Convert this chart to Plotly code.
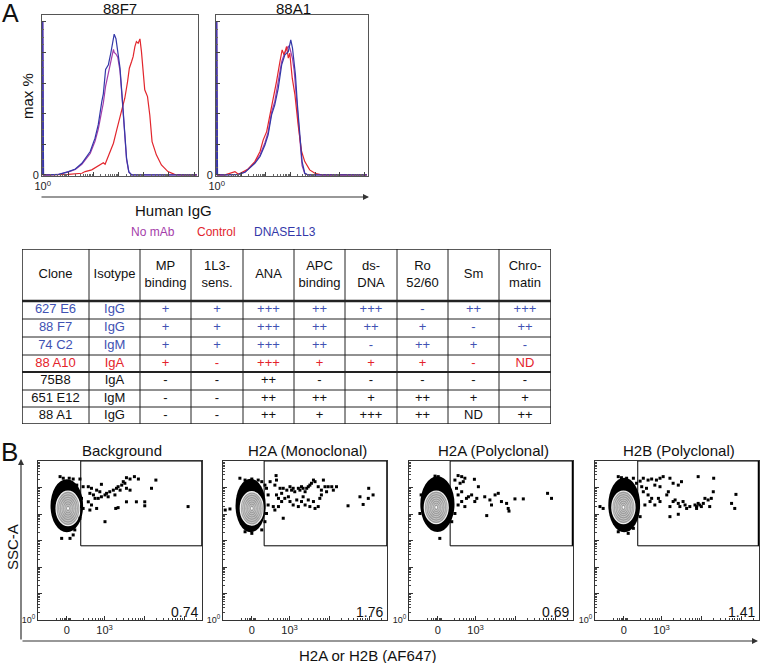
import numpy as np
import plotly.graph_objects as go

W, H = 760, 663
FONT = "Arial, Liberation Sans, sans-serif"

# =========================
# PANEL A: HISTOGRAMS (x = log10 Human IgG, y = % of max)
# =========================
F7_BLUE_X = [0.0, 0.0, 0.03, 0.24, 0.63, 1.02, 1.29, 1.55, 1.68, 1.88, 2.07, 2.20, 2.34, 2.40, 2.49,
             2.60, 2.70, 2.80, 2.83, 2.90, 2.97, 3.06, 3.15, 3.23, 3.32, 3.41, 3.52, 6.1]
F7_BLUE_Y = [0, 100, 0, 0, 0.4, 2.2, 3.9, 7.6, 10.9, 15.3, 24, 33, 48, 53, 69,
             72, 80, 88, 92, 89, 81, 70, 50, 28, 11, 2, 0, 0]
F7_PURPLE_Y = [0, 100, 0, 0, 0.3, 2.0, 3.5, 7.0, 10.0, 14.0, 22, 30, 42, 47, 58,
               66, 75, 82, 80, 79, 77, 68, 49, 27, 10, 2, 0, 0]
F7_RED_X = [0.0, 1.02, 1.55, 1.68, 1.94, 2.14, 2.27, 2.40, 2.47, 2.53, 2.66, 2.80, 2.93, 3.10, 3.19,
            3.25, 3.36, 3.43, 3.52, 3.58, 3.65, 3.71, 3.78, 3.85, 3.91, 3.98, 4.04, 4.15, 4.24, 4.33,
            4.50, 4.70, 4.96, 5.22, 5.49, 6.1]
F7_RED_Y = [0, 0.4, 1.1, 2.2, 3.3, 5.4, 6.9, 8.0, 7.0, 9.5, 15.3, 20.7, 29.4, 41.4, 46.9,
            50.1, 61.0, 69.7, 74.1, 77.3, 83.9, 87.1, 86.0, 88.9, 80.6, 67.5, 55.6, 51.2, 39.2, 21.8,
            13.1, 6.5, 2.2, 0.4, 0, 0]

A1_BLUE_X = [0.0, 0.0, 0.03, 0.34, 0.88, 1.15, 1.42, 1.55, 1.76, 1.96, 2.09, 2.23, 2.36, 2.50, 2.64,
             2.77, 2.91, 2.97, 3.01, 3.08, 3.15, 3.20, 3.28, 3.38, 3.47, 3.58, 3.72, 6.1]
A1_BLUE_Y = [0, 100, 0, 0, 0.4, 1.7, 5.4, 7.6, 12.0, 19.6, 26.1, 39.2, 45.8, 56.6, 71.9,
             78.4, 80.6, 87.1, 88.2, 82.8, 74.0, 65.4, 45.8, 24.0, 8.7, 1.1, 0, 0]
A1_PURPLE_Y = [0, 100, 0, 0, 0.4, 2.0, 5.8, 8.2, 13.0, 21.0, 28.0, 41.0, 48.0, 60.0, 74.0,
               80.0, 84.0, 83.0, 80.0, 76.0, 68.0, 58.0, 40.0, 20.0, 6.0, 0.8, 0, 0]
A1_RED_X = [0.0, 0.34, 0.74, 0.88, 1.28, 1.55, 1.76, 1.89, 2.03, 2.23, 2.43, 2.57, 2.66, 2.74, 2.84,
            2.91, 2.97, 3.07, 3.18, 3.31, 3.45, 3.58, 3.78, 3.99, 4.26, 6.1]
A1_RED_Y = [0, 0, 2.2, 0.4, 3.9, 8.7, 15.3, 22.9, 28.3, 43.6, 61.0, 74.1, 81.7, 78.4, 83.9,
            76.3, 79.5, 63.2, 52.3, 32.7, 15.3, 8.7, 3.3, 1.1, 0, 0]

HIST_TITLES = ["88F7", "88A1"]
LEGEND_LABELS = ["No mAb", "Control", "DNASE1L3"]

# =========================
# TABLE
# =========================
HEADERS = ["Clone", "Isotype", "MP<br>binding", "1L3-<br>sens.", "ANA", "APC<br>binding",
           "ds-<br>DNA", "Ro<br>52/60", "Sm", "Chro-<br>matin"]
CLONES = ["627 E6", "88 F7", "74 C2", "88 A10", "75B8", "651 E12", "88 A1"]
ISOTYPES = ["IgG", "IgG", "IgM", "IgA", "IgA", "IgM", "IgG"]
MP_BINDING = ["+", "+", "+", "+", "-", "-", "-"]
L3_SENS = ["+", "+", "+", "-", "-", "-", "-"]
ANA = ["+++", "+++", "+++", "+++", "++", "++", "++"]
APC_BINDING = ["++", "++", "++", "+", "-", "++", "+"]
DS_DNA = ["+++", "++", "-", "+", "-", "+", "+++"]
RO_52_60 = ["-", "+", "++", "+", "-", "++", "++"]
SM = ["++", "-", "+", "-", "-", "+", "ND"]
CHROMATIN = ["+++", "++", "-", "ND", "-", "+", "++"]
ROW_GROUP = ["dnase", "dnase", "dnase", "control", "other", "other", "other"]

# =========================
# PANEL B: FLOW PLOTS (x = AF647 display units, 10^3 at 3; y = log10 SSC-A)
# =========================
B_TITLES = ["Background", "H2A (Monoclonal)", "H2A (Polyclonal)", "H2B (Polyclonal)"]
GATE_PCT = [0.74, 1.76, 0.69, 1.41]
GATE_X = [2.40, 2.36, 2.36, 2.40]
GATE_Y = 2.8

BLOB_CX = [2.05, 2.02, 2.04, 2.06]
BLOB_CY = [4.31, 4.32, 4.37, 4.34]
BLOB_RX = [0.41, 0.38, 0.43, 0.40]
BLOB_RY = [1.00, 1.01, 1.05, 1.03]
CORE_CX = [2.08, 2.05, 2.01, 2.04]
CORE_CY = [4.21, 4.21, 4.25, 4.25]
CORE_RX = [0.30, 0.29, 0.30, 0.29]
CORE_RY = [0.65, 0.63, 0.61, 0.61]

BG_X = [1.88, 1.96, 2.11, 2.21, 2.38, 2.30, 2.46, 2.42, 2.42, 2.46, 2.38, 2.25, 2.21, 2.13, 1.92,
        2.59, 2.67, 2.63, 2.72, 2.80, 2.88, 2.92, 2.76, 2.84, 2.92, 3.01, 3.05, 3.09, 3.13, 3.22,
        3.26, 3.30, 3.34, 3.39, 3.43, 3.47, 3.51, 3.55, 3.64, 3.75, 3.85, 3.55, 3.64, 3.55, 3.80,
        4.01, 4.01, 4.18, 4.29, 3.28, 3.34, 3.01, 5.10, 2.67, 2.59, 2.80, 2.63]
BG_Y = [5.41, 5.35, 5.35, 5.32, 5.32, 5.09, 5.03, 4.59, 4.28, 4.21, 3.84, 3.40, 3.21, 3.08, 3.08,
        5.03, 4.97, 4.78, 4.72, 4.90, 4.84, 5.12, 4.59, 4.59, 4.65, 4.72, 4.78, 4.65, 4.84, 4.90,
        4.72, 4.97, 5.03, 4.90, 5.09, 5.22, 5.16, 5.37, 5.32, 5.41, 5.32, 4.97, 4.90, 4.46, 4.46,
        4.46, 4.31, 4.97, 5.28, 4.21, 4.24, 3.71, 4.28, 4.34, 4.46, 4.21, 4.15]

MONO_X = [1.38, 1.50, 1.75, 2.66, 2.67, 2.51, 2.63, 2.76, 2.84, 2.80, 2.93, 3.01, 3.05, 3.09, 3.13,
          3.22, 3.26, 3.30, 3.34, 3.39, 3.43, 3.47, 3.51, 3.55, 3.60, 3.64, 3.72, 3.80, 3.85, 3.89,
          3.93, 3.97, 4.06, 4.10, 4.18, 2.67, 2.72, 2.80, 2.88, 2.97, 3.01, 3.09, 3.18, 3.22, 3.30,
          3.34, 3.39, 3.47, 3.51, 3.60, 3.64, 3.72, 3.76, 3.80, 2.84, 2.63, 2.59, 2.72, 4.47, 4.77,
          4.85, 4.99, 5.10, 4.98, 1.88, 2.05, 2.21, 2.30, 2.38, 2.42, 2.46, 2.46, 2.42, 2.38, 2.30,
          2.05, 1.88]
MONO_Y = [4.15, 4.19, 5.35, 5.45, 5.28, 5.22, 5.09, 4.97, 4.97, 4.78, 4.90, 5.03, 4.90, 4.97, 4.84,
          4.97, 4.90, 5.03, 4.97, 4.84, 4.97, 5.03, 5.09, 5.16, 5.28, 5.22, 5.03, 4.90, 5.28, 5.03,
          4.84, 5.03, 5.03, 4.90, 5.03, 4.72, 4.59, 4.47, 4.59, 4.65, 4.47, 4.34, 4.53, 4.28, 4.47,
          4.65, 4.34, 4.53, 4.28, 4.47, 4.21, 4.28, 4.59, 4.72, 3.84, 4.15, 4.28, 4.28, 4.31, 4.65,
          4.36, 4.97, 4.72, 4.59, 5.28, 5.32, 5.28, 5.22, 5.09, 4.97, 4.72, 4.34, 4.02, 3.71, 3.40,
          3.27, 3.33]

POLY_A_X = [2.10, 1.98, 2.06, 2.56, 2.65, 2.73, 2.69, 2.61, 2.48, 2.52, 2.65, 2.56, 2.56, 2.65, 2.73,
            2.77, 2.48, 2.40, 1.63, 1.60, 2.97, 3.07, 2.82, 2.90, 3.03, 2.98, 3.23, 3.36, 3.40, 3.49,
            3.57, 3.65, 3.78, 3.82, 3.84, 3.99, 4.20, 3.28, 4.81, 4.91]
POLY_A_Y = [3.08, 5.43, 5.41, 5.45, 5.41, 5.35, 5.22, 5.16, 5.28, 4.97, 4.84, 4.72, 4.34, 4.47, 4.28,
            4.59, 4.02, 3.71, 4.72, 4.02, 5.31, 5.03, 4.65, 4.72, 4.59, 4.47, 4.65, 4.53, 4.34, 4.72,
            4.78, 4.47, 4.40, 4.21, 4.11, 4.57, 4.57, 3.94, 4.78, 4.59]

POLY_B_X = [1.45, 1.53, 1.91, 1.99, 2.12, 2.29, 2.46, 2.37, 2.50, 2.54, 2.62, 2.66, 2.71, 2.58, 2.46,
            2.29, 2.16, 1.91, 2.54, 2.66, 2.75, 2.87, 2.96, 3.04, 2.83, 2.96, 3.21, 3.29, 3.42, 3.50,
            3.92, 4.31, 2.75, 2.83, 2.92, 2.96, 3.13, 3.17, 3.21, 3.29, 3.34, 3.42, 3.46, 3.54, 3.59,
            3.63, 3.71, 3.84, 3.88, 3.92, 4.00, 4.05, 4.09, 4.17, 4.21, 4.25, 4.30, 3.21, 3.42, 3.88,
            3.96, 4.76, 4.84, 4.87]
POLY_B_Y = [4.28, 4.21, 5.41, 5.37, 5.35, 5.35, 5.24, 5.16, 5.03, 4.84, 4.97, 4.72, 4.47, 4.34, 3.90,
            3.46, 3.27, 3.33, 5.35, 5.28, 5.32, 5.28, 5.35, 5.41, 5.09, 5.03, 5.35, 5.16, 5.09, 5.22,
            5.41, 5.35, 4.59, 4.34, 4.59, 4.47, 4.72, 4.84, 4.28, 4.47, 4.53, 4.40, 4.28, 4.47, 4.34,
            4.21, 4.28, 4.34, 4.28, 4.40, 4.28, 4.40, 4.59, 4.53, 4.28, 4.59, 4.84, 3.90, 3.99, 4.21,
            4.34, 4.40, 4.21, 4.74]

DOTS_X = [BG_X, MONO_X, POLY_A_X, POLY_B_X]
DOTS_Y = [BG_Y, MONO_Y, POLY_A_Y, POLY_B_Y]

# =========================
# STYLE / LAYOUT HELPERS
# =========================
BLUE = "#3338a8"
PURPLE = "#a43daa"
RED = "#e2262d"
TXT_COLOR = {"dnase": "#4152b3", "control": "#e4232b", "other": "#111111"}

def px(x):
    return x / W

def py(y):
    return 1 - y / H

def xdom(a, b):
    return [a / W, b / W]

def ydom(top, bottom):
    return [1 - bottom / H, 1 - top / H]

fig = go.Figure()

# ---- histograms
hist_sets = [
    ("x", "y", F7_BLUE_X, F7_PURPLE_Y, F7_RED_X, F7_RED_Y, F7_BLUE_Y),
    ("x2", "y2", A1_BLUE_X, A1_PURPLE_Y, A1_RED_X, A1_RED_Y, A1_BLUE_Y),
]
for xa, ya, bx, pyv, rx, ry, by in hist_sets:
    fig.add_trace(go.Scatter(x=bx, y=pyv, mode="lines", line=dict(color=PURPLE, width=1.2),
                             xaxis=xa, yaxis=ya, hoverinfo="skip"))
    fig.add_trace(go.Scatter(x=rx, y=ry, mode="lines", line=dict(color=RED, width=1.2),
                             xaxis=xa, yaxis=ya, hoverinfo="skip"))
    fig.add_trace(go.Scatter(x=bx, y=by, mode="lines", line=dict(color=BLUE, width=1.2),
                             xaxis=xa, yaxis=ya, hoverinfo="skip"))

HIST_MINOR = [k + np.log10(m) for k in range(6) for m in range(2, 10)]
PCT_MINOR = [v for v in range(5, 105, 5) if v % 20]

def hist_xaxis(dom):
    return dict(domain=dom, range=[-0.03, 6.15], showline=True, mirror=True, linecolor="#555",
                linewidth=1, ticks="inside", ticklen=4, tickcolor="#444", automargin=False,
                tickmode="array", tickvals=list(range(7)), ticktext=["10<sup>0</sup>"] + [""] * 6,
                minor=dict(ticks="inside", ticklen=2, tickcolor="#666", tickvals=HIST_MINOR),
                tickfont=dict(size=11, color="#222"), showgrid=False, zeroline=False)

def hist_yaxis(dom, anchor):
    return dict(domain=dom, anchor=anchor, range=[-0.7, 104.5], showline=True, mirror=True,
                linecolor="#555", linewidth=1, ticks="inside", ticklen=4, tickcolor="#444",
                tickmode="array", tickvals=[0, 20, 40, 60, 80, 100],
                ticktext=["0", " ", " ", " ", " ", " "],
                minor=dict(ticks="inside", ticklen=2, tickcolor="#666", tickvals=PCT_MINOR),
                automargin=False, showticklabels=True,
                tickfont=dict(size=11, color="#222"), showgrid=False, zeroline=False)

# ---- table
COL_W = [67, 51, 51, 52, 51, 51, 52, 51, 51, 52]
HEADER_H = 52
ROW_H = [18, 18, 18, 17, 18, 17, 17]
col_edges = np.concatenate([[0], np.cumsum(COL_W)])
row_edges = np.concatenate([[0, HEADER_H], HEADER_H + np.cumsum(ROW_H)])
col_mid = (col_edges[:-1] + col_edges[1:]) / 2
row_mid = (row_edges[1:-1] + row_edges[2:]) / 2

columns = [CLONES, ISOTYPES, MP_BINDING, L3_SENS, ANA, APC_BINDING, DS_DNA, RO_52_60, SM, CHROMATIN]
tx, ty, tt, tc = [], [], [], []
for j, h in enumerate(HEADERS):
    tx.append(col_mid[j]); ty.append(HEADER_H / 2); tt.append(h); tc.append("#111")
for i in range(len(CLONES)):
    for j, col in enumerate(columns):
        tx.append(col_mid[j]); ty.append(row_mid[i]); tt.append(col[i])
        tc.append(TXT_COLOR[ROW_GROUP[i]])
fig.add_trace(go.Scatter(x=tx, y=ty, text=tt, mode="text", xaxis="x3", yaxis="y3",
                         textfont=dict(family=FONT, size=13, color=tc), hoverinfo="skip"))

shapes = []
H_LINE_W = [1.5, 2.5, 1, 1, 1, 2, 1, 1, 1.5]
for yv, lw in zip(row_edges, H_LINE_W):
    shapes.append(dict(type="line", xref="x3", yref="y3", x0=0, x1=col_edges[-1], y0=yv, y1=yv,
                       line=dict(color="#222", width=lw)))
for k, xv in enumerate(col_edges):
    lw = 1.5 if k in (0, len(col_edges) - 1) else 1
    shapes.append(dict(type="line", xref="x3", yref="y3", x0=xv, x1=xv, y0=0, y1=row_edges[-1],
                       line=dict(color="#222", width=lw)))

# ---- flow plots
B_LEFT = [38, 223, 409, 595]
B_WIDTH = 164
P0 = 2.05
B_XRANGE = [1.325, 5.45]
B_Y_MINOR = [k + np.log10(m) for k in range(6) for m in range(2, 10)]
B_X_MINOR = ([2 + np.log10(m) for m in range(3, 10)]
             + [k + np.log10(m) for k in (3, 4) for m in range(2, 10)]
             + [5 + np.log10(2)]
             + [P0 + d for d in (-0.25, -0.15, -0.1, -0.06, -0.03, 0.03, 0.06, 0.1)])
RING_SCALES = [0.86, 0.72, 0.58, 0.45, 0.32, 0.2]
GATE_EDGE_W = [1, 1, 2.5, 2.5]

for i in range(4):
    xa, ya = f"x{4 + i}", f"y{4 + i}"
    # cell cloud outline and contour core
    shapes.append(dict(type="circle", xref=xa, yref=ya, layer="below",
                       x0=BLOB_CX[i] - BLOB_RX[i], x1=BLOB_CX[i] + BLOB_RX[i],
                       y0=BLOB_CY[i] - BLOB_RY[i], y1=BLOB_CY[i] + BLOB_RY[i],
                       fillcolor="black", line=dict(width=0)))
    shapes.append(dict(type="circle", xref=xa, yref=ya, layer="below",
                       x0=CORE_CX[i] - CORE_RX[i], x1=CORE_CX[i] + CORE_RX[i],
                       y0=CORE_CY[i] - CORE_RY[i], y1=CORE_CY[i] + CORE_RY[i],
                       fillcolor="#9c9c9c", line=dict(color="#eeeeee", width=1.3)))
    for s in RING_SCALES:
        shapes.append(dict(type="circle", xref=xa, yref=ya, layer="below",
                           x0=CORE_CX[i] - CORE_RX[i] * s, x1=CORE_CX[i] + CORE_RX[i] * s,
                           y0=CORE_CY[i] - CORE_RY[i] * s, y1=CORE_CY[i] + CORE_RY[i] * s,
                           fillcolor="rgba(0,0,0,0)", line=dict(color="#d8d8d8", width=0.7)))
    shapes.append(dict(type="circle", xref=xa, yref=ya, layer="below",
                       x0=CORE_CX[i] - CORE_RX[i] * 0.08, x1=CORE_CX[i] + CORE_RX[i] * 0.08,
                       y0=CORE_CY[i] - CORE_RY[i] * 0.08, y1=CORE_CY[i] + CORE_RY[i] * 0.08,
                       fillcolor="white", line=dict(width=0)))
    # gate
    shapes.append(dict(type="rect", xref=xa, yref=ya, x0=GATE_X[i], x1=B_XRANGE[1], y0=GATE_Y, y1=6,
                       line=dict(color="black", width=1)))
    shapes.append(dict(type="line", xref=xa, yref=ya, x0=B_XRANGE[1], x1=B_XRANGE[1], y0=GATE_Y, y1=6,
                       line=dict(color="black", width=GATE_EDGE_W[i])))
    fig.add_trace(go.Scatter(x=DOTS_X[i], y=DOTS_Y[i], mode="markers", xaxis=xa, yaxis=ya,
                             marker=dict(symbol="square", size=3, color="black", line=dict(width=0)),
                             hoverinfo="skip"))

layout_axes = dict(
    xaxis=hist_xaxis(xdom(42, 198)) | dict(anchor="y"),
    yaxis=hist_yaxis(ydom(15, 176), "x"),
    xaxis2=hist_xaxis(xdom(216, 368)) | dict(anchor="y2"),
    yaxis2=hist_yaxis(ydom(15, 176), "x2"),
    xaxis3=dict(domain=xdom(22, 551), range=[0, col_edges[-1]], visible=False, anchor="y3",
                automargin=False),
    yaxis3=dict(domain=ydom(249, 424), range=[row_edges[-1], 0], visible=False, anchor="x3",
                automargin=False),
)
for i in range(4):
    n = 4 + i
    layout_axes[f"xaxis{n}"] = dict(
        domain=xdom(B_LEFT[i], B_LEFT[i] + B_WIDTH), anchor=f"y{n}", range=B_XRANGE,
        showline=True, mirror=True, linecolor="#333", linewidth=1, ticks="inside", ticklen=4,
        tickcolor="#333", tickvals=[P0, 3, 4, 5], ticktext=["0", "10<sup>3</sup>", "", ""],
        minor=dict(ticks="inside", ticklen=2, tickcolor="#444", tickvals=B_X_MINOR),
        tickfont=dict(size=11, color="#222"), showgrid=False, zeroline=False, automargin=False)
    layout_axes[f"yaxis{n}"] = dict(
        domain=ydom(461, 620), anchor=f"x{n}", range=[0, 6],
        showline=True, mirror=True, linecolor="#333", linewidth=1, ticks="inside", ticklen=4,
        tickcolor="#333", tickvals=list(range(7)), ticktext=["10<sup>0</sup>"] + [""] * 6,
        minor=dict(ticks="inside", ticklen=2, tickcolor="#444", tickvals=B_Y_MINOR),
        tickfont=dict(size=9, color="#222"), showgrid=False, zeroline=False, automargin=False)

# =========================
# ANNOTATIONS
# =========================
def txt(x, y, s, size=14, color="#111", angle=0, xanchor="center"):
    return dict(x=px(x), y=py(y), xref="paper", yref="paper", text=s, showarrow=False,
                font=dict(family=FONT, size=size, color=color), textangle=angle,
                xanchor=xanchor, yanchor="middle")

ann = [
    txt(10, 13, "A", size=25),
    txt(120, 9, HIST_TITLES[0], size=15),
    txt(293, 9, HIST_TITLES[1], size=15),
    txt(27, 96, "max %", size=15, angle=-90),
    txt(173, 210, "Human IgG", size=15),
    txt(153, 232, LEGEND_LABELS[0], size=12, color=PURPLE),
    txt(216, 232, LEGEND_LABELS[1], size=12, color=RED),
    txt(285, 232, LEGEND_LABELS[2], size=12, color=BLUE),
    txt(9, 452, "B", size=26),
    txt(12, 547, "SSC-A", size=15, angle=-90),
    txt(368, 655, "H2A or H2B (AF647)", size=15),
    dict(x=px(369), y=py(197), xref="paper", yref="paper", text="", showarrow=True, ax=-329, ay=0,
         arrowhead=2, arrowsize=1, arrowwidth=1.2, arrowcolor="#333"),
    dict(x=px(21), y=py(459), xref="paper", yref="paper", text="", showarrow=True, ax=0, ay=182,
         arrowhead=2, arrowsize=1, arrowwidth=1.2, arrowcolor="#333"),
    dict(x=px(758), y=py(641), xref="paper", yref="paper", text="", showarrow=True, ax=-737, ay=0,
         arrowhead=2, arrowsize=1, arrowwidth=1.2, arrowcolor="#333"),
]
for i in range(4):
    cx = B_LEFT[i] + B_WIDTH / 2
    ann.append(txt(cx + 2, 450, B_TITLES[i], size=15))
    ann.append(dict(x=0.985, y=0.05, xref=f"x{4 + i} domain", yref=f"y{4 + i} domain",
                    text=f"{GATE_PCT[i]:.2f}", showarrow=False, xanchor="right", yanchor="middle",
                    font=dict(family=FONT, size=14, color="#111")))

fig.update_layout(
    template="none",
    width=W, height=H, margin=dict(l=0, r=0, t=0, b=0, pad=0), autosize=False,
    paper_bgcolor="white", plot_bgcolor="white", showlegend=False, hovermode=False,
    font=dict(family=FONT, color="#111"),
    shapes=shapes, annotations=ann, **layout_axes,
)

# page body has a default 8px margin; remove it so the figure fills the window
fig.write_html("out.html", config={"displayModeBar": False},
               post_script="document.body.style.margin='0';")
